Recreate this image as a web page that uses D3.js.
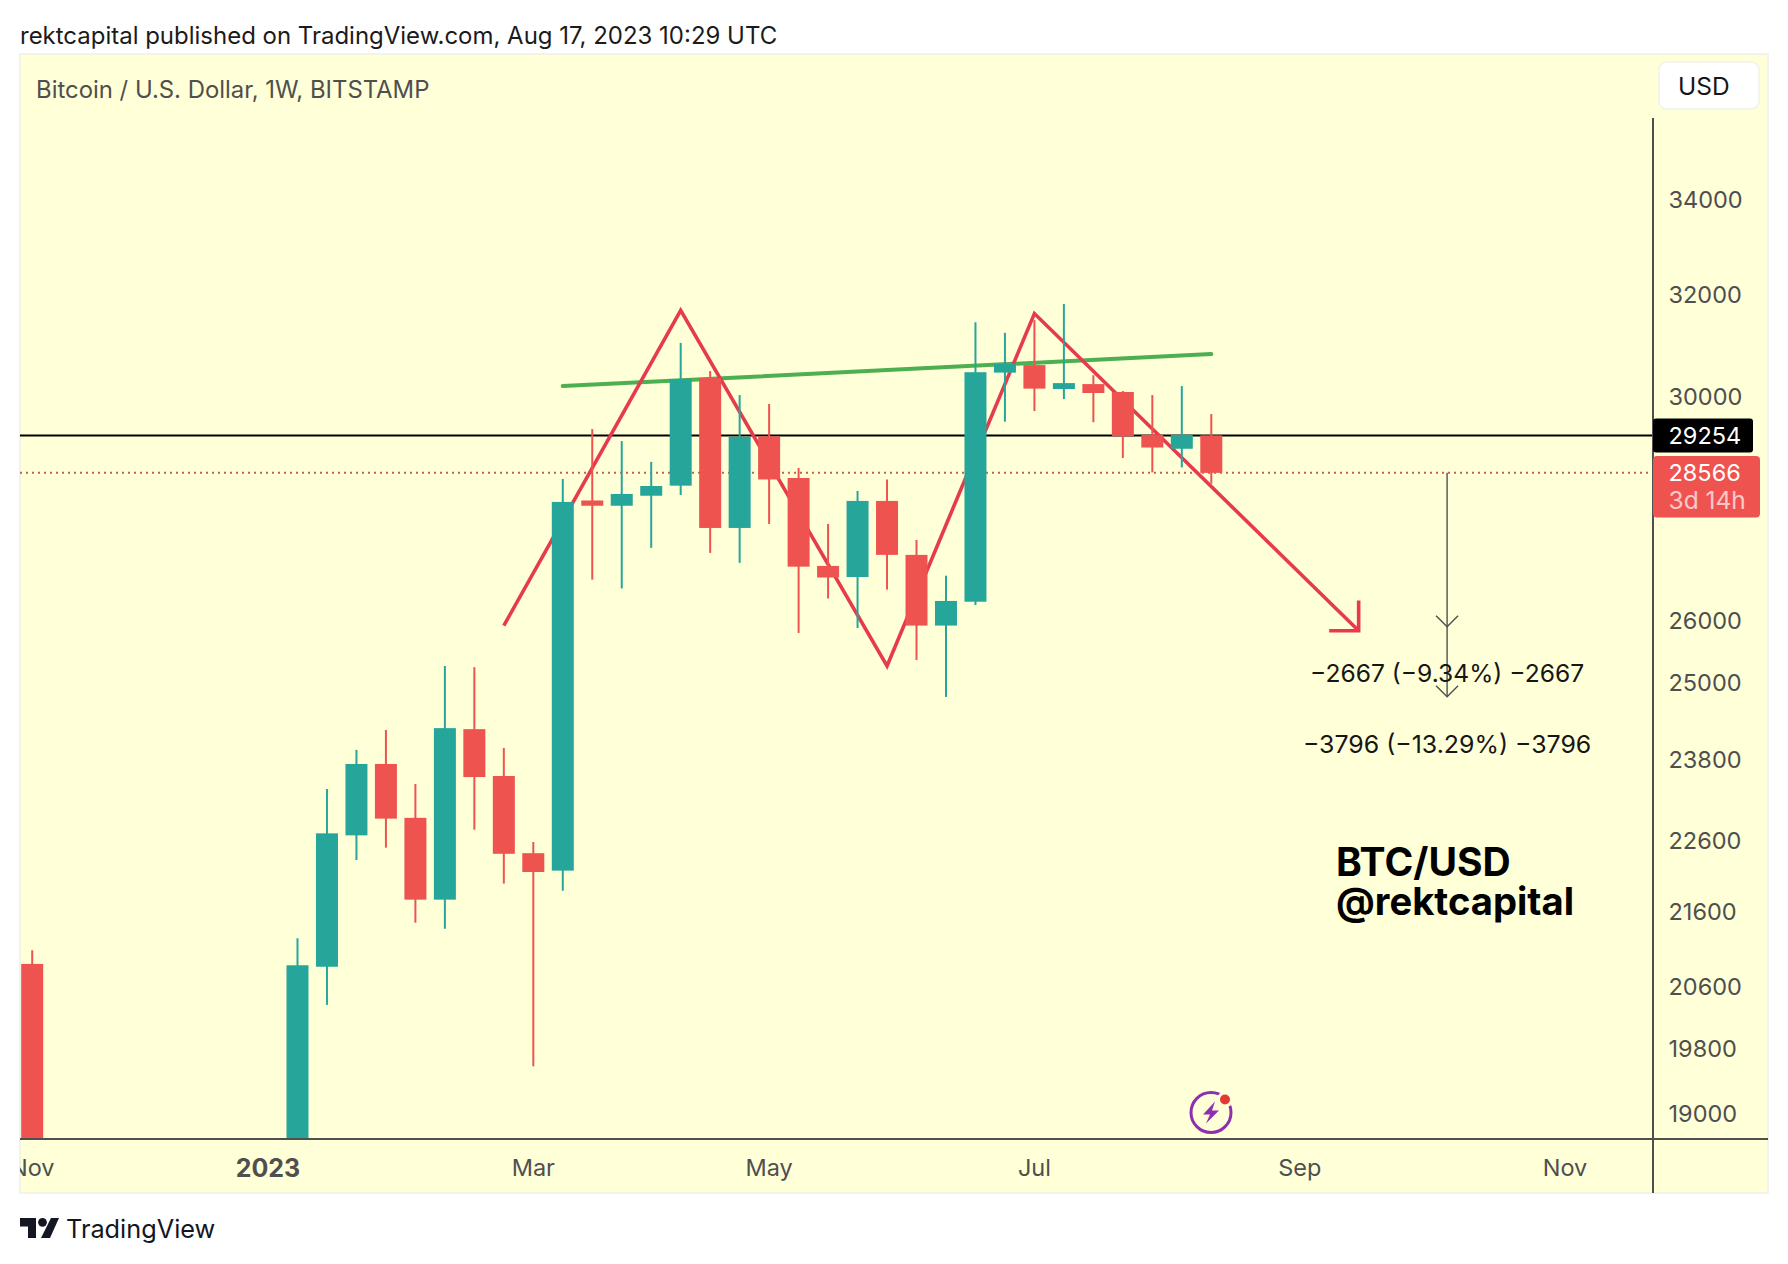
<!DOCTYPE html>
<html>
<head>
<meta charset="utf-8">
<script src="https://cdn.jsdelivr.net/npm/d3@7"></script>
<style>
  html, body { margin: 0; padding: 0; background: #fff; }
  text { font-family: Inter, "Noto Sans", sans-serif; }
</style>
</head>
<body>
<svg id="chart" width="1788" height="1264"></svg>
<script>
// weekly candles, values
const weeks = ["2022-11-07","2023-01-09","2023-01-16","2023-01-23","2023-01-30","2023-02-06","2023-02-13","2023-02-20","2023-02-27","2023-03-06","2023-03-13","2023-03-20","2023-03-27","2023-04-03","2023-04-10","2023-04-17","2023-04-24","2023-05-01","2023-05-08","2023-05-15","2023-05-22","2023-05-29","2023-06-05","2023-06-12","2023-06-19","2023-06-26","2023-07-03","2023-07-10","2023-07-17","2023-07-24","2023-07-31","2023-08-07","2023-08-14"];
const opens  = [20893,17100,20855,22676,23731,22930,21766,24263,23550,22420,22172,28068,27974,28153,28334,30344,27581,29240,28473,26922,26732,28060,27112,25918,26315,30450,30596,30133,30228,30076,29266,29008,29257];
const highs  = [21075,21237,23356,23945,24250,23430,25260,25240,23975,22580,28456,29375,29151,28766,31031,30480,30018,29847,28656,27652,28239,28446,27370,26755,31445,31232,31486,31810,30400,30095,30018,30190,29656];
const lows   = [15500,16900,20354,22322,22499,21448,21366,22758,21990,19574,21889,26687,26538,27233,28167,27146,26975,27652,25797,26370,25878,26519,25357,24766,26261,29513,29713,29942,29503,28839,28575,28665,28369];
const closes = [16300,20875,22705,23731,22919,21766,24279,23534,22411,22153,28042,27974,28185,28328,30327,27581,29230,28446,26909,26724,28060,27112,25918,26328,30458,30620,30141,30247,30057,29240,29031,29266,28566];

const priceTicks = [19000,19800,20600,21600,22600,23800,25000,26000,30000,32000,34000,36000];
const timeTicks = ["2022-11-07","2023-01-02","2023-03-06","2023-05-01","2023-07-03","2023-09-04","2023-11-06"];
const timeLabels = ["Nov","2023","Mar","May","Jul","Sep","Nov"];

const lastPrice = 28566;
const hLevel = 29254;

// drawings on the chart: [date, price]
const patternDates = ["2023-02-27","2023-04-10","2023-05-29","2023-07-03","2023-09-18"];
const patternPrices = [25918,31681,25260,31617,25834];
const arrowDates = ["2023-09-11","2023-09-18","2023-09-18"];
const arrowPrices = [25834,25834,26335];
const necklineDates = ["2023-03-13","2023-08-14"];
const necklinePrices = [30190,30812];
const measureDate = "2023-10-09";
const measureLow1 = 25899;
const measureLow2 = 24770;
const measureText1 = "\u22122667 (\u22129.34%) \u22122667";
const measureText2 = "\u22123796 (\u221213.29%) \u22123796";

const UP = "#26a69a", DOWN = "#ef5350", DRAW = "#e63b4f", INK = "#4f4f4f";
const panel = { left: 20, right: 1768, top: 54, bottom: 1193 };
const plot = { right: 1653, top: 118, bottom: 1139 };

const parse = d3.utcParse("%Y-%m-%d");
const svg = d3.select("#chart");

const x = d3.scaleUtc()
  .domain([parse("2022-11-07"), parse("2023-11-06")])
  .range([32.2, 1565]);
const y = d3.scaleLog()
  .domain([19000, 34000])
  .range([1113, 199.5]);

const defs = svg.append("defs");
defs.append("clipPath").attr("id", "plotClip").append("rect")
  .attr("x", panel.left).attr("y", panel.top)
  .attr("width", plot.right - panel.left).attr("height", plot.bottom - panel.top);
defs.append("clipPath").attr("id", "priceClip").append("rect")
  .attr("x", plot.right).attr("y", plot.top)
  .attr("width", panel.right - plot.right).attr("height", plot.bottom - plot.top);
defs.append("clipPath").attr("id", "timeClip").append("rect")
  .attr("x", panel.left).attr("y", plot.bottom)
  .attr("width", plot.right - panel.left).attr("height", panel.bottom - plot.bottom);

// page header and panel
svg.append("text").attr("x", 20).attr("y", 44)
  .attr("font-size", 23.98).attr("fill", "#1b1b1b")
  .text("rektcapital published on TradingView.com, Aug 17, 2023 10:29 UTC");

svg.append("rect")
  .attr("x", panel.left).attr("y", panel.top)
  .attr("width", panel.right - panel.left).attr("height", panel.bottom - panel.top)
  .attr("fill", "#ffffd8").attr("stroke", "#f0f0e8").attr("stroke-width", 1.5);

svg.append("text").attr("x", 36).attr("y", 98)
  .attr("font-size", 23.9).attr("fill", INK)
  .text("Bitcoin / U.S. Dollar, 1W, BITSTAMP");

svg.append("rect").attr("x", 1659).attr("y", 62).attr("width", 100).attr("height", 47)
  .attr("rx", 8).attr("fill", "#fff").attr("stroke", "#f2f2ec").attr("stroke-width", 1.5);
svg.append("text").attr("x", 1678).attr("y", 95)
  .attr("font-size", 24.5).attr("fill", "#161616").text("USD");

const plotG = svg.append("g").attr("clip-path", "url(#plotClip)");

// levels
plotG.append("line")
  .attr("x1", panel.left).attr("x2", plot.right)
  .attr("y1", y(lastPrice)).attr("y2", y(lastPrice))
  .attr("stroke", "#c4604f").attr("stroke-width", 2).attr("stroke-dasharray", "2 4");
plotG.append("line")
  .attr("x1", panel.left).attr("x2", plot.right)
  .attr("y1", y(hLevel)).attr("y2", y(hLevel))
  .attr("stroke", "#000").attr("stroke-width", 2);

// drawings, under the candles
const line = d3.line().x(d => x(parse(d[0]))).y(d => y(d[1]));
plotG.append("path")
  .attr("d", line(necklineDates.map((d, i) => [d, necklinePrices[i]])))
  .attr("fill", "none").attr("stroke", "#4caf50").attr("stroke-width", 4).attr("stroke-linecap", "round");
plotG.append("path")
  .attr("d", line(patternDates.map((d, i) => [d, patternPrices[i]])))
  .attr("fill", "none").attr("stroke", DRAW).attr("stroke-width", 3.6).attr("stroke-linejoin", "miter");
plotG.append("path")
  .attr("d", line(arrowDates.map((d, i) => [d, arrowPrices[i]])))
  .attr("fill", "none").attr("stroke", DRAW).attr("stroke-width", 3.6);

// candles
const candles = weeks.map((d, i) => ({
  date: parse(d), open: opens[i], high: highs[i], low: lows[i], close: closes[i]
}));
const bodyW = 22;
const candleG = plotG.selectAll("g.candle").data(candles).enter().append("g")
  .attr("class", "candle")
  .attr("fill", d => d.close >= d.open ? UP : DOWN)
  .attr("stroke", d => d.close >= d.open ? UP : DOWN);
candleG.append("line")
  .attr("x1", d => x(d.date)).attr("x2", d => x(d.date))
  .attr("y1", d => y(d.high)).attr("y2", d => y(d.low))
  .attr("stroke-width", 2);
candleG.append("rect")
  .attr("x", d => x(d.date) - bodyW / 2)
  .attr("width", bodyW)
  .attr("y", d => y(Math.max(d.open, d.close)))
  .attr("height", d => Math.abs(y(d.open) - y(d.close)))
  .attr("stroke", "none");

// measure tool
const mx = x(parse(measureDate));
plotG.append("line")
  .attr("x1", mx).attr("x2", mx)
  .attr("y1", y(lastPrice)).attr("y2", y(measureLow2))
  .attr("stroke", INK).attr("stroke-width", 1.4);
[measureLow1, measureLow2].forEach(p => {
  plotG.append("path")
    .attr("d", `M${mx - 11},${y(p) - 11}L${mx},${y(p)}L${mx + 11},${y(p) - 11}`)
    .attr("fill", "none").attr("stroke", INK).attr("stroke-width", 1.4);
});
plotG.append("text").attr("x", mx).attr("y", 682)
  .attr("text-anchor", "middle").attr("font-size", 24.6).attr("fill", "#161616").text(measureText1);
plotG.append("text").attr("x", mx).attr("y", 752.5)
  .attr("text-anchor", "middle").attr("font-size", 24.9).attr("fill", "#161616").text(measureText2);

plotG.append("text").attr("x", 1336).attr("y", 876)
  .attr("font-size", 39).attr("font-weight", 700).attr("fill", "#000").text("BTC/USD");
plotG.append("text").attr("x", 1336).attr("y", 915)
  .attr("font-size", 38.2).attr("font-weight", 700).attr("fill", "#000").text("@rektcapital");

// axes
const yAxis = d3.axisRight(y).tickValues(priceTicks).tickFormat(d3.format("d")).tickSize(0).tickPadding(15.5);
const yG = svg.append("g").attr("clip-path", "url(#priceClip)")
  .append("g").attr("transform", `translate(${plot.right},0.6)`).call(yAxis);
yG.select(".domain").remove();
yG.selectAll("text").attr("font-size", 23.5).attr("fill", INK)
  .attr("font-family", 'Inter, sans-serif');

const xAxis = d3.axisBottom(x)
  .tickValues(timeTicks.map(parse))
  .tickFormat((d, i) => timeLabels[i]).tickSize(0).tickPadding(20);
const xG = svg.append("g").attr("clip-path", "url(#timeClip)")
  .append("g").attr("transform", `translate(-0.5,${plot.bottom})`).call(xAxis);
xG.select(".domain").remove();
xG.selectAll("text").attr("font-size", (d, i) => timeLabels[i] === "2023" ? 25 : 23.5).attr("fill", INK)
  .attr("font-family", 'Inter, sans-serif')
  .attr("font-weight", (d, i) => timeLabels[i] === "2023" ? 700 : 400);

svg.append("line").attr("x1", panel.left).attr("x2", panel.right)
  .attr("y1", plot.bottom).attr("y2", plot.bottom)
  .attr("stroke", INK).attr("stroke-width", 2);
svg.append("line").attr("x1", plot.right).attr("x2", plot.right)
  .attr("y1", plot.top).attr("y2", panel.bottom)
  .attr("stroke", INK).attr("stroke-width", 2);

// price labels
svg.append("rect").attr("x", plot.right).attr("y", y(hLevel) - 17)
  .attr("width", 100).attr("height", 34).attr("rx", 3).attr("fill", "#000");
svg.append("text").attr("x", 1668.5).attr("y", y(hLevel) + 8.5)
  .attr("font-size", 23.5).attr("fill", "#fff").text(hLevel);
svg.append("rect").attr("x", plot.right).attr("y", 456)
  .attr("width", 107).attr("height", 61.5).attr("rx", 4).attr("fill", DOWN);
svg.append("text").attr("x", 1668.5).attr("y", y(lastPrice) + 8.5)
  .attr("font-size", 23.5).attr("fill", "#fff").text(lastPrice);
svg.append("text").attr("x", 1668.5).attr("y", 509)
  .attr("font-size", 24.5).attr("fill", "#fff").attr("fill-opacity", 0.7).text("3d 14h");

// bolt badge
const badge = svg.append("g").attr("transform", "translate(1211,1112.5)");
badge.append("circle").attr("r", 20).attr("fill", "none").attr("stroke", "#8e2fb0").attr("stroke-width", 3);
badge.append("path").attr("d", "M4,-11L-8,2L-1,2L-5,11L8,-2L1,-2Z").attr("fill", "#8e2fb0");
badge.append("circle").attr("cx", 14).attr("cy", -13).attr("r", 8).attr("fill", "#ffffd8");
badge.append("circle").attr("cx", 14).attr("cy", -13).attr("r", 5).attr("fill", "#e53935");

// TradingView footer
const logo = svg.append("g").attr("fill", "#131722").attr("transform", "translate(20,1218)");
logo.append("path").attr("d", "M0,0H16V20H8V8.5H0Z");
logo.append("circle").attr("cx", 22.5).attr("cy", 4.3).attr("r", 4.4);
logo.append("path").attr("d", "M31,0H39L30,20H21Z");
svg.append("text").attr("x", 66).attr("y", 1238)
  .attr("font-size", 25.3).attr("fill", "#131722").text("TradingView");
</script>
</body>
</html>
